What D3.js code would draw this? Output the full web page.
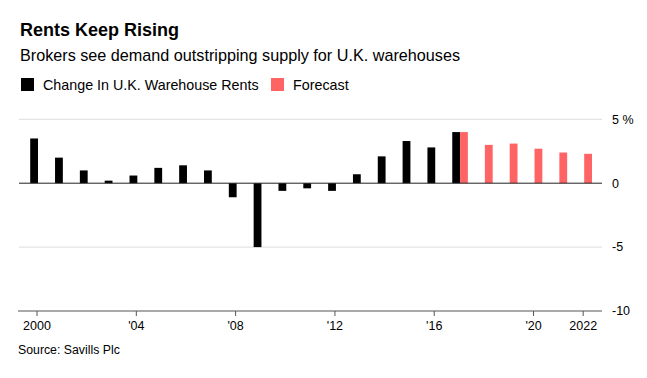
<!DOCTYPE html>
<html>
<head>
<meta charset="utf-8">
<script src="https://cdn.jsdelivr.net/npm/d3@7"></script>
<style>
  body { margin: 0; background: #fff; }
  svg { font-family: "Liberation Sans", Arial, sans-serif; display: block; }
  .title { font-size: 18px; font-weight: bold; }
  .subtitle { font-size: 16.2px; }
  .legend text { font-size: 14.3px; }
  .axis text { font-size: 12.5px; fill: #000; }
  .source { font-size: 12.3px; }
</style>
</head>
<body>
<svg width="647" height="378"></svg>
<script>
// data (percent change, y/y)
const years = d3.range(2000, 2023)
const rentYears = d3.range(2000, 2018)
const rentValues = [3.5, 2.0, 1.0, 0.2, 0.6, 1.2, 1.4, 1.0, -1.1, -5.0, -0.6, -0.4, -0.6, 0.7, 2.1, 3.3, 2.8, 4.0]
const forecastYears = [2017, 2018, 2019, 2020, 2021, 2022]
const forecastValues = [4.0, 3.0, 3.1, 2.7, 2.4, 2.3]
const xTicks = [2000, 2004, 2008, 2012, 2016, 2020, 2022]
const xTickLabels = ['2000', "'04", "'08", "'12", "'16", "'20", '2022']
const yTicks = [5, 0, -5, -10]
const yTickLabels = ['5 %', '0', '-5', '-10']
const seriesNames = ['Change In U.K. Warehouse Rents', 'Forecast']
const colors = ['#000000', '#ff6464']

const svg = d3.select('svg')

const left = 18, right = 602
const x = d3.scaleBand()
  .domain(years)
  .range([25.6, 596.6])
  .paddingInner(0)

const sub = d3.scaleBand()
  .domain([0, 1])
  .range([x.bandwidth() / 2 - 7.8, x.bandwidth() / 2 + 7.8])

const y = d3.scaleLinear()
  .domain([-10, 5])
  .range([311, 119.3])

// titles
svg.append('text').attr('class', 'title')
  .attr('x', 20).attr('y', 36)
  .text('Rents Keep Rising')

svg.append('text').attr('class', 'subtitle')
  .attr('x', 20).attr('y', 60.5)
  .text('Brokers see demand outstripping supply for U.K. warehouses')

// legend
const legend = svg.append('g').attr('class', 'legend')
const legendX = [21, 271]
seriesNames.forEach((name, i) => {
  legend.append('rect')
    .attr('x', legendX[i]).attr('y', 78)
    .attr('width', 13).attr('height', 13)
    .attr('fill', colors[i])
  legend.append('text')
    .attr('x', legendX[i] + 22).attr('y', 89.5)
    .text(name)
})

// grid lines
svg.append('g')
  .selectAll('line')
  .data(yTicks.filter(d => d !== 0 && d !== -10))
  .enter()
  .append('line')
  .attr('x1', left + 1).attr('x2', right)
  .attr('y1', d => y(d)).attr('y2', d => y(d))
  .attr('stroke', '#dcdcdc')
  .attr('stroke-width', 1)

// y labels
svg.append('g').attr('class', 'axis')
  .selectAll('text')
  .data(yTicks)
  .enter()
  .append('text')
  .attr('x', 612)
  .attr('y', d => y(d))
  .attr('dy', '0.35em')
  .text((d, i) => yTickLabels[i])

// bars
const bars = svg.append('g')
bars.selectAll('.rent')
  .data(rentYears.map((yr, i) => ({ yr, v: rentValues[i] })))
  .enter()
  .append('rect')
  .attr('class', 'rent')
  .attr('x', d => x(d.yr) + sub(0))
  .attr('width', sub.bandwidth())
  .attr('y', d => y(Math.max(0, d.v)))
  .attr('height', d => Math.abs(y(d.v) - y(0)))
  .attr('fill', colors[0])

bars.selectAll('.forecast')
  .data(forecastYears.map((yr, i) => ({ yr, v: forecastValues[i] })))
  .enter()
  .append('rect')
  .attr('class', 'forecast')
  .attr('x', d => x(d.yr) + sub(1))
  .attr('width', sub.bandwidth())
  .attr('y', d => y(Math.max(0, d.v)))
  .attr('height', d => Math.abs(y(d.v) - y(0)))
  .attr('fill', colors[1])

// zero line
svg.append('line')
  .attr('x1', left + 1).attr('x2', right)
  .attr('y1', y(0)).attr('y2', y(0))
  .attr('stroke', '#222')
  .attr('stroke-width', 1)

// x axis
const xAxis = d3.axisBottom(x)
  .tickValues(xTicks)
  .tickSize(5)
  .tickPadding(5)
  .tickFormat(d => xTickLabels[xTicks.indexOf(d)])

const gx = svg.append('g').attr('class', 'axis')
  .attr('transform', `translate(0, ${y(-10)})`)
  .call(xAxis)
gx.select('.domain').remove()
gx.selectAll('.tick line').attr('stroke', '#555').attr('transform', 'translate(-1, 0)')
gx.selectAll('.tick text').attr('transform', 'translate(-1, 0)')
gx.append('line')
  .attr('x1', left).attr('x2', right)
  .attr('stroke', '#555')

svg.append('text').attr('class', 'source')
  .attr('x', 18).attr('y', 354)
  .text('Source: Savills Plc')
</script>
</body>
</html>
